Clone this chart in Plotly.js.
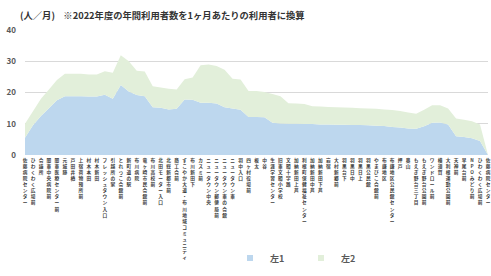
<!DOCTYPE html>
<html><head><meta charset="utf-8">
<script src="https://cdn.plot.ly/plotly-3.0.1.min.js"></script>
<style>html,body{margin:0;padding:0;background:#fff}#chart{width:491px;height:276px}</style>
</head><body><div id="chart"></div>
<script>
const stops = [
  "佐藤病院センター","ひわくわく広場前","会議所","関東中央病院前","関東医療センター前",
  "元城跡","戸田井橋","上宿荷物預所前","村木本田","村木新田",
  "フレッシュタウン入口","引越所の家","とれっこ会館前","新町道の駅","布川病院",
  "竜ヶ崎市民会館前","布川高校前","北田モーター入口","北総新都市前","商工会前",
  "すこやか大道・布川地域コミュニティ","布川新田下","カスミ前","ニュータウン中央","ニュータウン郵便局前",
  "ニュータウン東の会館","ニュータウン東","羽中入口","四ヶ村役場前","板太",
  "中谷","生涯学習センター","旧東文間小学校","文間十字路","加納新田上芦",
  "利根町保健福祉センター","加納新田中芦","加納新田下芦","岩宿","大村新郷前",
  "羽黒台下","羽黒日中","羽黒日上","羽黒公民館","やまびこ会館前",
  "布鎌地区","布鎌地区公民館センター","押戸","奥山","もえぎ野台三丁目",
  "もえぎ野台公園前","ワンドロール前","横須賀","大利根運動公園前","天神前",
  "早尾台前","NPOみどり前","ひわくわく広場前","佐藤病院センター"
];
const left1 = [
  5.5, 9.5, 12.5, 15.0, 17.5, 18.8, 18.8, 18.8, 18.7, 18.7,
  19.3, 18.0, 22.4, 20.3, 19.2, 18.8, 15.3, 15.1, 14.6, 14.8,
  17.8, 17.7, 16.7, 16.7, 16.5, 15.3, 14.9, 14.5, 12.2, 12.2,
  12.1, 10.3, 10.1, 10.0, 10.0, 9.9, 9.9, 9.8, 9.8, 9.7,
  9.7, 9.6, 9.6, 9.5, 9.4, 9.3, 9.0, 8.8, 8.5, 8.4,
  9.2, 10.3, 10.4, 9.8, 6.0, 5.8, 5.4, 4.5, 0
];
const left2 = [
  4.5, 4.5, 5.5, 6.0, 6.5, 7.2, 7.2, 7.2, 7.1, 7.1,
  7.5, 8.3, 9.5, 9.7, 7.8, 7.9, 6.7, 6.5, 6.6, 6.2,
  6.4, 7.1, 12.0, 12.3, 12.0, 12.0, 9.5, 9.7, 8.3, 8.3,
  8.1, 9.2, 8.7, 6.6, 6.5, 6.4, 5.7, 5.7, 5.6, 5.6,
  5.5, 5.5, 5.4, 5.4, 5.4, 5.3, 5.4, 5.3, 5.1, 4.8,
  5.3, 5.6, 5.5, 5.1, 5.7, 5.5, 5.4, 5.3, 0
];
const seriesNames = ["左1", "左2"];
const seriesColors = ["#bdd7ee", "#e2efda"];
const yTicks = [0, 10, 20, 30, 40];
const titleText = "(人／月)&nbsp;&nbsp;&nbsp;&nbsp;※2022年度の年間利用者数を1ヶ月あたりの利用者に換算";

const idx = stops.map((_, i) => i);
const stackText = s => Array.from(s).join("<br>");
const jp = '"Noto Sans CJK JP", "Noto Sans", sans-serif';

const data = [
  {type: "scatter", x: idx, y: left1, name: seriesNames[0], stackgroup: "one", mode: "none",
   fillcolor: seriesColors[0], showlegend: false, hoverinfo: "skip"},
  {type: "scatter", x: idx, y: left2, name: seriesNames[1], stackgroup: "one", mode: "none",
   fillcolor: seriesColors[1], showlegend: false, hoverinfo: "skip"},
  {type: "scatter", x: [null], y: [null], name: seriesNames[0], mode: "markers",
   marker: {symbol: "square", size: 6, color: seriesColors[0]}},
  {type: "scatter", x: [null], y: [null], name: seriesNames[1], mode: "markers",
   marker: {symbol: "square", size: 6, color: seriesColors[1]}}
];

const layout = {
  width: 491, height: 276,
  margin: {l: 25, r: 3, t: 30, b: 109},
  paper_bgcolor: "#fff", plot_bgcolor: "#fff",
  font: {family: jp, color: "#404040"},
  title: {text: titleText, font: {family: jp, size: 9.3, weight: "bold", color: "#333"},
          xref: "container", x: 20/491, xanchor: "left",
          yref: "container", y: 1 - 16/276, yanchor: "middle"},
  xaxis: {range: [0, 58], tickmode: "array", tickvals: idx, ticktext: stops.map(stackText),
          tickangle: 0, tickfont: {family: jp, size: 4.7, weight: "bold", color: "#404040"},
          showgrid: false, zeroline: false, showline: false, ticks: "", ticklabelstandoff: 1,
          fixedrange: true},
  yaxis: {range: [0, 40], tickmode: "array", tickvals: yTicks, showgrid: true,
          gridcolor: "#d9d9d9", gridwidth: 1, zeroline: false, showline: false, ticks: "",
          tickfont: {family: jp, size: 8, weight: "bold", color: "#595959"},
          ticklabelstandoff: 8, fixedrange: true},
  showlegend: true,
  legend: {orientation: "h", traceorder: "normal", x: (230 - 25) / 463, xanchor: "left",
           y: (167 - 280) / 137, yanchor: "middle",
           font: {family: jp, size: 9, weight: "bold", color: "#595959"},
           itemwidth: 30, entrywidth: 26, bgcolor: "rgba(0,0,0,0)"}
};

Plotly.newPlot("chart", data, layout, {staticPlot: true, displayModeBar: false});
</script></body></html>
